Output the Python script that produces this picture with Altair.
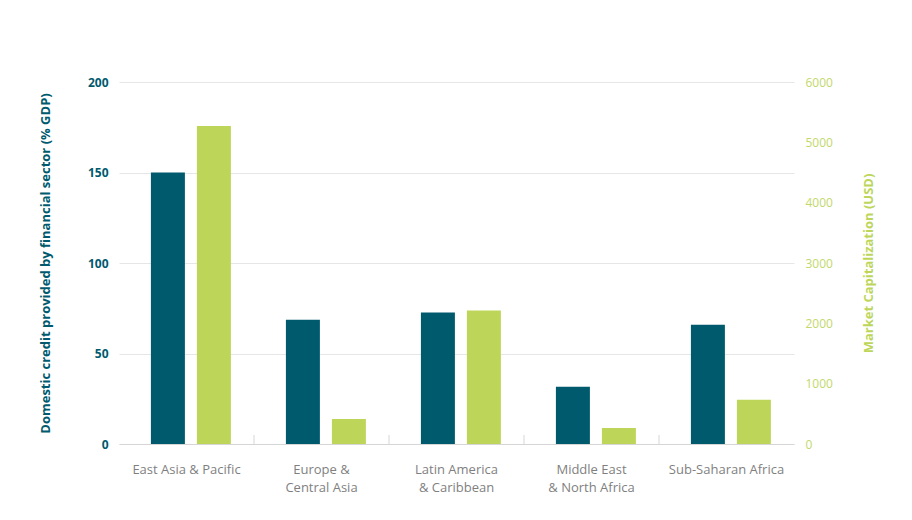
import altair as alt
import pandas as pd

categories = [
    "East Asia & Pacific",
    "Europe &\nCentral Asia",
    "Latin America\n& Caribbean",
    "Middle East\n& North Africa",
    "Sub-Saharan Africa",
]
credit = [150, 68.6, 72.6, 31.6, 65.9]
market_cap = [5270, 414, 2212, 265, 734]

left_ticks = [0, 50, 100, 150, 200]
right_ticks = [0, 1000, 2000, 3000, 4000, 5000, 6000]

TEAL = "#005a6e"
GREEN = "#bdd65a"
GREEN_TXT = "#c2d86c"
GRID = "#e6e6e6"
FONT = "Open Sans"

df = pd.DataFrame({"region": categories, "credit": credit, "mcap": market_cap})

x_axis = alt.Axis(
    title=None,
    labelAngle=0,
    labelExpr="split(datum.label, '\\n')",
    labelColor="#7f7f7f",
    labelFontSize=13,
    labelFont=FONT,
    labelLineHeight=18,
    labelPadding=19,
    tickSize=0,
    domainColor="#d6d6d6",
    grid=False,
)
x_scale = alt.Scale(paddingInner=0, paddingOuter=0)

def x_enc(**kw):
    return alt.X("region:N", sort=categories, scale=x_scale, axis=x_axis, **kw)

xoff = alt.XOffset(
    "s:N",
    scale=alt.Scale(domain=["a", "b"], paddingInner=0.261, paddingOuter=0.598, align=0.58),
)

base = alt.Chart(df)

dark = base.transform_calculate(s="'a'").mark_bar(color=TEAL).encode(
    x=x_enc(),
    xOffset=xoff,
    y=alt.Y(
        "credit:Q",
        scale=alt.Scale(domain=[0, 200]),
        axis=alt.Axis(
            orient="left",
            values=left_ticks,
            grid=True,
            gridColor=GRID,
            tickSize=0,
            domain=False,
            labelColor=TEAL,
            labelFont=FONT,
            labelFontWeight="bold",
            labelFontSize=12,
            labelPadding=11,
            title="Domestic credit provided by financial sector (% GDP)",
            titleColor=TEAL,
            titleFont=FONT,
            titleFontSize=13,
            titleFontWeight="bold",
            titlePadding=35,
        ),
    ),
)

green = base.transform_calculate(s="'b'").mark_bar(color=GREEN).encode(
    x=x_enc(),
    xOffset=xoff,
    y=alt.Y(
        "mcap:Q",
        scale=alt.Scale(domain=[0, 6000]),
        axis=alt.Axis(
            orient="right",
            values=right_ticks,
            format="d",
            grid=False,
            tickSize=0,
            domain=False,
            labelColor=GREEN_TXT,
            labelFont=FONT,
            labelFontSize=12,
            labelPadding=11,
            title="Market Capitalization (USD)",
            titleColor=GREEN,
            titleFont=FONT,
            titleFontSize=13,
            titleFontWeight="bold",
            titleAngle=270,
            titleBaseline="top",
            titlePadding=30,
        ),
    ),
)

ticks = (
    base.transform_filter(alt.FieldOneOfPredicate(field="region", oneOf=categories[1:]))
    .mark_rule(color="#d6d6d6", strokeWidth=1)
    .encode(
        x=x_enc(bandPosition=0),
        y=alt.value(353),
        y2=alt.value(362),
    )
)

chart = (
    alt.layer(dark, green, ticks)
    .resolve_scale(y="independent")
    .properties(
        width=675,
        height=362,
        autosize=alt.AutoSizeParams(type="none"),
        padding={"left": 111, "top": 74, "right": 100, "bottom": 60},
        background="white",
    )
    .configure_view(stroke=None)
)

chart.save("out.html", embed_options={"renderer": "svg", "actions": False})
